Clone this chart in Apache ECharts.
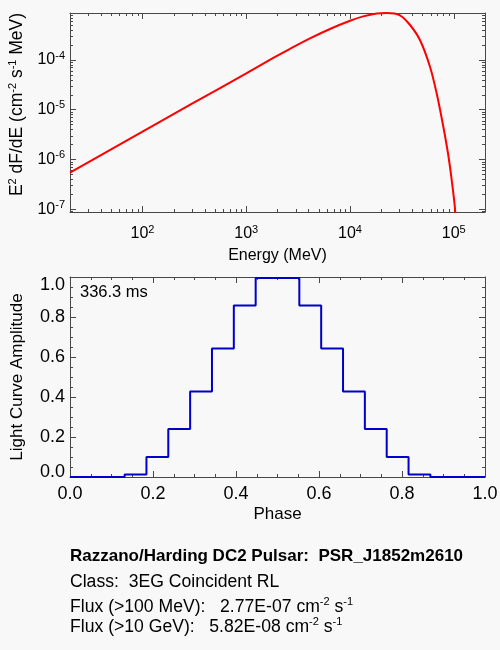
<!DOCTYPE html>
<html>
<head>
<meta charset="utf-8">
<script src="https://cdn.jsdelivr.net/npm/echarts@6/dist/echarts.min.js"></script>
<style>
html, body { margin: 0; padding: 0; background: #f8f8f8; }
#main { width: 500px; height: 650px; }
</style>
</head>
<body>
<div id="main"></div>
<script>
// spectrum (MeV, E^2 dF/dE)
var energy = [20, 100, 300, 1000, 1820, 2640, 4110, 6410, 10000, 13400, 18100, 22500, 30300, 37900, 47200, 59000, 68400, 79300, 88500, 95500, 103000, 106000];
var sed = [5.42e-7, 3.65e-6, 1.32e-5, 5.40e-5, 1.10e-4, 1.68e-4, 2.72e-4, 4.20e-4, 6.14e-4, 7.52e-4, 8.60e-4, 8.80e-4, 7.91e-4, 5.05e-4, 2.52e-4, 7.33e-5, 2.14e-5, 4.56e-6, 1.23e-6, 3.87e-7, 9.66e-8, 2.5e-8];

// light curve, 19 phase bins
var phase = [0, 0.0526, 0.1053, 0.1579, 0.2105, 0.2632, 0.3158, 0.3684, 0.4211, 0.4737, 0.5263, 0.5789, 0.6316, 0.6842, 0.7368, 0.7895, 0.8421, 0.8947, 0.9474, 1.0];
var amplitude = [0, 0, 0, 0.013, 0.10, 0.24, 0.427, 0.643, 0.857, 0.995, 0.995, 0.857, 0.643, 0.427, 0.24, 0.10, 0.013, 0, 0, 0];

// axis ranges and ticks
var energyRange = [20, 2e5];
var sedRange = [8.8e-8, 8.8e-4];
var energyTicks = [100, 1000, 10000, 100000];
var sedTicks = [1e-7, 1e-6, 1e-5, 1e-4];
var logMinorSteps = [2, 3, 4, 5, 6, 7, 8, 9];

var AXIS = '#484848';
var FONT = 'Liberation Sans';

function lg(v) { return Math.log10(v); }

function logMinor(range) {
    var out = [];
    for (var d = Math.floor(lg(range[0])); d <= Math.ceil(lg(range[1])); d++) {
        logMinorSteps.forEach(function (m) {
            var v = m * Math.pow(10, d);
            if (v > range[0] && v < range[1]) out.push(lg(v));
        });
    }
    return out;
}

function pow10(v) { return '{b|10}{s|' + Math.round(v) + '}'; }

function supRich(size, sup) {
    return {
        b: { fontFamily: FONT, fontSize: size, lineHeight: 20, verticalAlign: 'middle', color: '#000' },
        s: { fontFamily: FONT, fontSize: sup, lineHeight: 10, verticalAlign: 'top', color: '#000' }
    };
}

/* value axis laid over a log axis, only used to draw tick marks */
function tickAxis(grid, pos, range, values, len, frame, label) {
    return {
        type: 'value', gridIndex: grid, position: pos,
        min: lg(range[0]), max: lg(range[1]),
        splitLine: { show: false },
        axisLine: { show: !!frame, onZero: false, lineStyle: { color: AXIS, width: 1 } },
        axisTick: { show: true, inside: true, length: len, customValues: values, lineStyle: { color: AXIS } },
        axisLabel: label || { show: false }
    };
}

function phaseAxis(pos, extra) {
    var a = {
        type: 'value', gridIndex: 1, position: pos, min: 0, max: 1, interval: 0.2,
        splitLine: { show: false },
        axisLine: { show: true, onZero: false, lineStyle: { color: AXIS, width: 1 } },
        axisTick: { show: true, inside: true, length: 6, lineStyle: { color: AXIS } },
        minorTick: { show: true, splitNumber: 4, length: 3, lineStyle: { color: AXIS } },
        axisLabel: { show: false }
    };
    return Object.assign(a, extra || {});
}

// amplitude labels: end labels sit inside the frame like the original
function ampLabel(v) {
    if (v === 0) return '{lo|0.0}';
    if (v === 1) return '{hi|1.0}';
    return '{m|' + v.toFixed(1) + '}';
}

var majorE = energyTicks.map(lg), majorS = sedTicks.map(lg);
var minorE = logMinor(energyRange), minorS = logMinor(sedRange);

var option = {
    backgroundColor: '#f8f8f8',
    animation: false,
    textStyle: { fontFamily: FONT, color: '#000' },
    grid: [
        { left: 70, right: 15, top: 13, height: 199, containLabel: false, outerBoundsMode: 'none' },
        { left: 70, right: 15, top: 277, height: 200, containLabel: false, outerBoundsMode: 'none' }
    ],
    xAxis: [
        {
            type: 'log', gridIndex: 0, position: 'bottom', min: energyRange[0], max: energyRange[1],
            splitLine: { show: false },
            axisLine: { show: true, onZero: false, lineStyle: { color: AXIS, width: 1 } },
            axisTick: { show: false }, axisLabel: { show: false },
            name: 'Energy (MeV)', nameLocation: 'middle', nameGap: 36,
            nameTextStyle: { fontFamily: FONT, fontSize: 16, color: '#000' }
        },
        tickAxis(0, 'bottom', energyRange, majorE, 6, false,
            { show: true, customValues: majorE, formatter: pow10, rich: supRich(16, 11), margin: 12 }),
        tickAxis(0, 'bottom', energyRange, minorE, 3),
        tickAxis(0, 'top', energyRange, majorE, 6, true),
        tickAxis(0, 'top', energyRange, minorE, 3),
        phaseAxis('bottom', {
            axisLabel: { show: true, fontSize: 18, color: '#000', margin: 8, formatter: function (v) { return v.toFixed(1); } },
            name: 'Phase', nameLocation: 'middle', nameGap: 29,
            nameTextStyle: { fontFamily: FONT, fontSize: 17, color: '#000' }
        }),
        phaseAxis('top')
    ],
    yAxis: [
        {
            type: 'log', gridIndex: 0, position: 'left', min: sedRange[0], max: sedRange[1],
            splitLine: { show: false },
            axisLine: { show: true, onZero: false, lineStyle: { color: AXIS, width: 1 } },
            axisTick: { show: false }, axisLabel: { show: false },
            name: '{b|E}{s|2}{b| dF/dE (cm}{s|-2}{b| s}{s|-1}{b| MeV)}',
            nameLocation: 'middle', nameRotate: 90, nameGap: 43,
            nameTextStyle: { rich: supRich(17.5, 11), padding: [0, 0, 0, 16] }
        },
        tickAxis(0, 'left', sedRange, majorS, 6, false,
            { show: true, customValues: majorS, formatter: pow10, rich: supRich(16, 11), margin: 5 }),
        tickAxis(0, 'left', sedRange, minorS, 3),
        tickAxis(0, 'right', sedRange, majorS, 6, true),
        tickAxis(0, 'right', sedRange, minorS, 3),
        phaseAxis('left', {
            axisLabel: {
                show: true, margin: 5, formatter: ampLabel,
                rich: {
                    m: { fontFamily: FONT, fontSize: 18, color: '#000' },
                    lo: { fontFamily: FONT, fontSize: 18, color: '#000', padding: [0, 0, 9, 0] },
                    hi: { fontFamily: FONT, fontSize: 18, color: '#000', padding: [17, 0, 0, 0] }
                }
            },
            name: 'Light Curve Amplitude', nameLocation: 'middle', nameRotate: 90, nameGap: 44,
            nameTextStyle: { fontFamily: FONT, fontSize: 17, color: '#000' }
        }),
        phaseAxis('right')
    ],
    graphic: [
        { type: 'text', x: 80, y: 292, style: { text: '336.3 ms', fontFamily: FONT, fontSize: 16.5, fill: '#000', verticalAlign: 'middle' } },
        { type: 'text', x: 70, y: 556, style: { text: 'Razzano/Harding DC2 Pulsar:  PSR_J1852m2610', fontFamily: FONT, fontWeight: 'bold', fontSize: 17, fill: '#000', verticalAlign: 'middle' } },
        { type: 'text', x: 70, y: 582, style: { text: 'Class:  3EG Coincident RL', fontFamily: FONT, fontSize: 17.6, fill: '#000', verticalAlign: 'middle' } },
        {
            type: 'text', x: 70, y: 607, style: {
                text: '{n|Flux (>100 MeV):   2.77E-07 cm}{s|-2}{n| s}{s|-1}', verticalAlign: 'middle',
                rich: {
                    n: { fontFamily: FONT, fontSize: 17.6, lineHeight: 22, verticalAlign: 'middle', fill: '#000' },
                    s: { fontFamily: FONT, fontSize: 11, lineHeight: 11, verticalAlign: 'top', fill: '#000' }
                }
            }
        },
        {
            type: 'text', x: 70, y: 627, style: {
                text: '{n|Flux (>10 GeV):   5.82E-08 cm}{s|-2}{n| s}{s|-1}', verticalAlign: 'middle',
                rich: {
                    n: { fontFamily: FONT, fontSize: 17.6, lineHeight: 22, verticalAlign: 'middle', fill: '#000' },
                    s: { fontFamily: FONT, fontSize: 11, lineHeight: 11, verticalAlign: 'top', fill: '#000' }
                }
            }
        }
    ],
    series: [
        {
            type: 'line', xAxisIndex: 0, yAxisIndex: 0,
            data: energy.map(function (e, i) { return [e, sed[i]]; }),
            showSymbol: false, smooth: 0.3, clip: true,
            lineStyle: { color: '#ff0000', width: 2 }
        },
        {
            type: 'line', xAxisIndex: 5, yAxisIndex: 5,
            data: phase.map(function (p, i) { return [p, amplitude[i]]; }),
            step: 'middle', showSymbol: false, clip: false,
            lineStyle: { color: '#0000c8', width: 2 }
        }
    ]
};

var chart = echarts.init(document.getElementById('main'));
chart.setOption(option);
</script>
</body>
</html>
